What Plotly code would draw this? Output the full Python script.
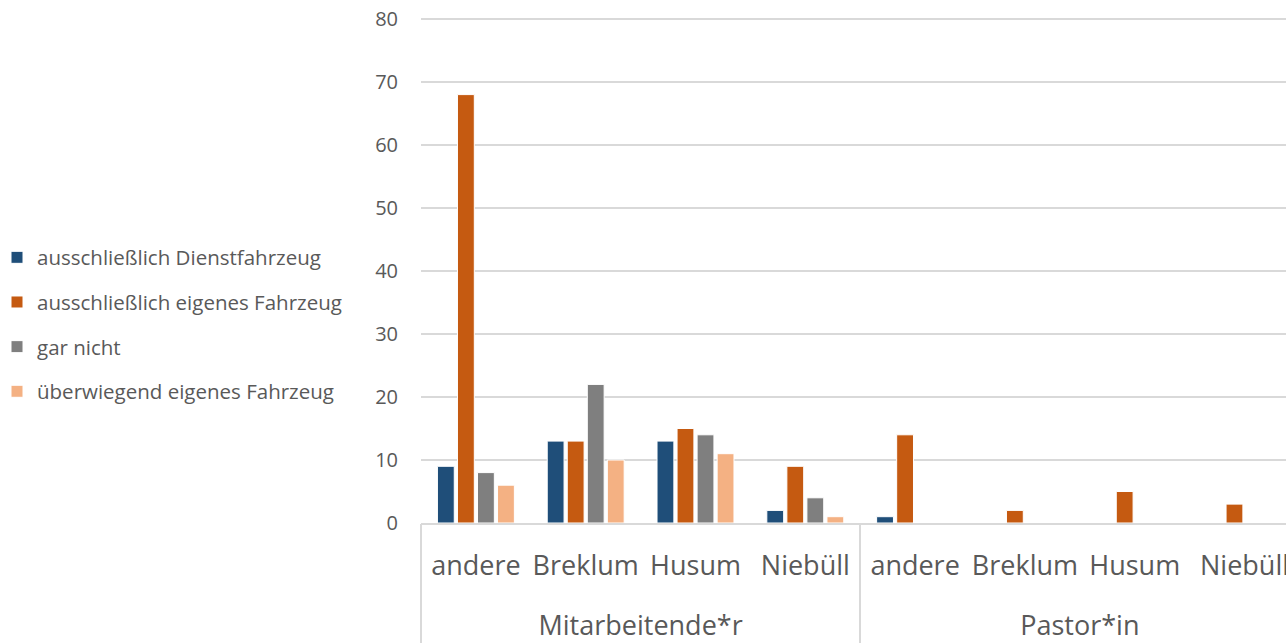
import plotly.graph_objects as go

groups = ["Mitarbeitende*r"] * 4 + ["Pastor*in"] * 4
places = ["andere", "Breklum", "Husum", "Niebüll"] * 2

series_names = [
    "ausschließlich Dienstfahrzeug",
    "ausschließlich eigenes Fahrzeug",
    "gar nicht",
    "überwiegend eigenes Fahrzeug",
]
dienst = [9, 13, 13, 2, 1, 0, 0, 0]
eigenes = [68, 13, 15, 9, 14, 2, 5, 3]
gar_nicht = [8, 22, 14, 4, 0, 0, 0, 0]
ueberwiegend = [6, 10, 11, 1, 0, 0, 0, 0]
colors = ["#1F4E79", "#C55A11", "#7F7F7F", "#F4B183"]

y_ticks = [0, 10, 20, 30, 40, 50, 60, 70, 80]

idx = list(range(len(places)))
group_names = list(dict.fromkeys(groups))
group_centers = [sum(i for i in idx if groups[i] == g) / groups.count(g) for g in group_names]
boundaries = [min(i for i in idx if groups[i] == g) - 0.5 for g in group_names] + [len(idx) - 0.5]
# the reference chart is cropped on the right, inside the last category
x_range = [-0.5, 7.378]

grid = "#D9D9D9"
txt = "#595959"

fig = go.Figure()
for name, vals, col in zip(series_names, [dienst, eigenes, gar_nicht, ueberwiegend], colors):
    fig.add_trace(go.Bar(
        x=idx, y=vals, name=name, legendgroup=name,
        marker=dict(color=col, line=dict(color="white", width=1)),
        hovertext=[f"{g} – {p}" for g, p in zip(groups, places)],
    ))
# helper traces so the group-label and divider axes are drawn
for ax in ["x2", "x3"]:
    fig.add_trace(go.Scatter(x=[], y=[], xaxis=ax, yaxis="y", showlegend=False, hoverinfo="skip"))

fig.update_layout(
    width=1286, height=643,
    margin=dict(l=421, r=0, t=16, b=120),
    plot_bgcolor="white", paper_bgcolor="white",
    barmode="group", bargap=0.27, bargroupgap=0.16,
    font=dict(family="Open Sans", color=txt, size=20),
    showlegend=True,
    legend=dict(
        x=-0.4867, xanchor="left", y=0.3915, yanchor="middle",
        font=dict(size=20.5, color=txt), tracegroupgap=15,
        itemwidth=30, indentation=-3, bgcolor="rgba(0,0,0,0)",
    ),
    xaxis=dict(
        range=x_range, tickvals=idx, ticktext=places, tickangle=0, automargin=False,
        tickfont=dict(size=27, color=txt), ticks="", showgrid=False, zeroline=False,
        showline=True, linecolor=grid, linewidth=1.5, ticklabelstandoff=18,
        ticklabeloverflow="allow",
    ),
    xaxis2=dict(
        overlaying="x", anchor="y", side="bottom", range=x_range,
        tickvals=group_centers, ticktext=group_names, tickangle=0, automargin=False,
        tickfont=dict(size=27, color=txt), ticks="", showgrid=False, zeroline=False,
        showline=False, ticklabelstandoff=84, ticklabeloverflow="allow",
    ),
    xaxis3=dict(
        overlaying="x", anchor="y", side="bottom", range=x_range,
        tickvals=boundaries, showticklabels=False, automargin=False,
        ticks="outside", ticklen=130, tickwidth=1.5, tickcolor=grid,
        showgrid=False, zeroline=False, showline=False,
    ),
    yaxis=dict(
        range=[0, 80.476], tickvals=y_ticks, automargin=False,
        tickfont=dict(size=20, color=txt), ticklabeloverflow="allow",
        showgrid=True, gridcolor=grid, gridwidth=1.5,
        zeroline=False, showline=False, ticks="", ticklabelstandoff=22,
    ),
)
fig.write_html(
    "out.html",
    config={"displayModeBar": False},
    post_script="document.body.style.margin='0';document.body.style.overflow='hidden';",
)
